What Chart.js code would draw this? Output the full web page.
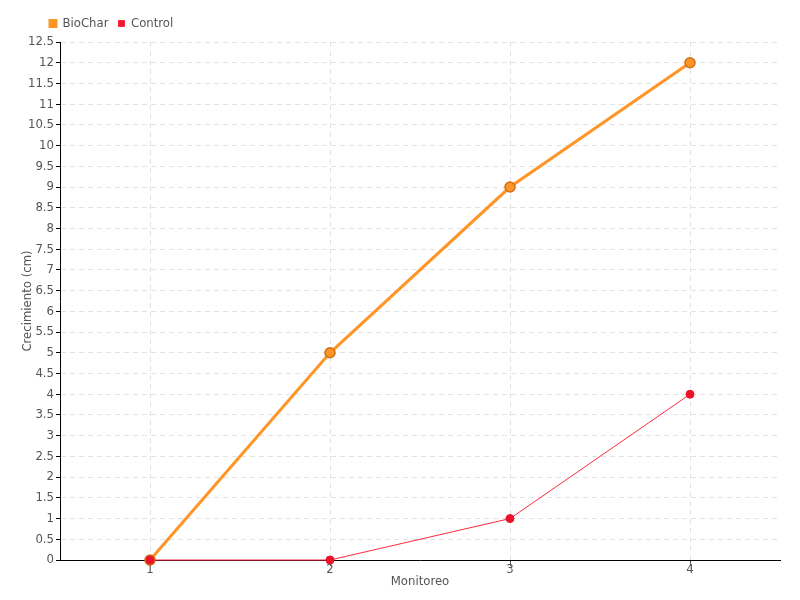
<!DOCTYPE html>
<html>
<head>
<meta charset="utf-8">
<script src="https://cdn.jsdelivr.net/npm/chart.js@4/dist/chart.umd.min.js"></script>
<style>
  body { margin: 0; background: #fff; }
</style>
</head>
<body>
<canvas id="growthChart" width="800" height="600"></canvas>
<script>
const monitoreo = ['1', '2', '3', '4'];
const bioChar = [0, 5, 9, 12];
const control = [0, 0, 1, 4];

const FONT = '"DejaVu Sans Condensed", "Liberation Sans Narrow", sans-serif';
const gridColor = '#e3e3e3';

// push the legend to where the reference has it
const legendShift = {
    id: 'legendShift',
    afterLayout(chart) {
        chart.legend.left = 40;
        chart.legend.top = 7;
    }
};

const ctx = document.getElementById('growthChart').getContext('2d');
const growthChart = new Chart(ctx, {
    type: 'line',
    data: {
        labels: monitoreo,
        datasets: [
            {
                label: 'BioChar',
                data: bioChar,
                borderColor: '#ff9526',
                backgroundColor: '#ff9526',
                borderWidth: 3,
                pointRadius: 5,
                pointBackgroundColor: '#ff9526',
                pointBorderColor: '#cf6f16',
                pointBorderWidth: 1.5,
                fill: false,
                clip: false,
                order: 1
            },
            {
                label: 'Control',
                data: control,
                borderColor: '#ff2a3c',
                backgroundColor: '#f01530',
                borderWidth: 1,
                pointRadius: 4,
                pointBackgroundColor: '#ea1328',
                pointBorderColor: '#ea1328',
                pointBorderWidth: 1,
                fill: false,
                clip: false,
                order: 0
            }
        ]
    },
    options: {
        responsive: false,
        animation: false,
        layout: { padding: { left: 20, right: 20, top: 9, bottom: 11 } },
        plugins: {
            legend: {
                position: 'top',
                align: 'start',
                labels: {
                    boxWidth: 6,
                    boxHeight: 6,
                    padding: 10,
                    color: '#555',
                    font: { family: FONT, size: 13 },
                    sort: (a, b) => a.datasetIndex - b.datasetIndex
                }
            },
            tooltip: { enabled: false }
        },
        scales: {
            x: {
                offset: true,
                grid: {
                    color: gridColor,
                    tickColor: '#555',
                    tickLength: 6,
                    offset: false
                },
                border: { color: '#000', width: 1, dash: [5, 4] },
                ticks: { color: '#555', font: { family: FONT, size: 13 }, padding: -4 },
                title: {
                    display: true,
                    text: 'Monitoreo',
                    color: '#555',
                    font: { family: FONT, size: 13 },
                    padding: { top: 0, bottom: 0 }
                },
                afterFit: (scale) => { scale.height = 29; }
            },
            y: {
                min: 0,
                max: 12.5,
                grid: {
                    color: gridColor,
                    tickColor: '#000',
                    tickLength: 4
                },
                border: { color: '#000', width: 1, dash: [5, 4] },
                ticks: {
                    stepSize: 0.5,
                    autoSkip: false,
                    color: '#555',
                    padding: 2,
                    font: { family: FONT, size: 13 },
                    callback: (value) => String(value)
                },
                title: {
                    display: true,
                    text: 'Crecimiento (cm)',
                    color: '#555',
                    font: { family: FONT, size: 13 },
                    padding: { top: 0, bottom: 2 }
                },
                afterFit: (scale) => { scale.width = 40; }
            }
        }
    },
    plugins: [legendShift]
});
</script>
</body>
</html>
